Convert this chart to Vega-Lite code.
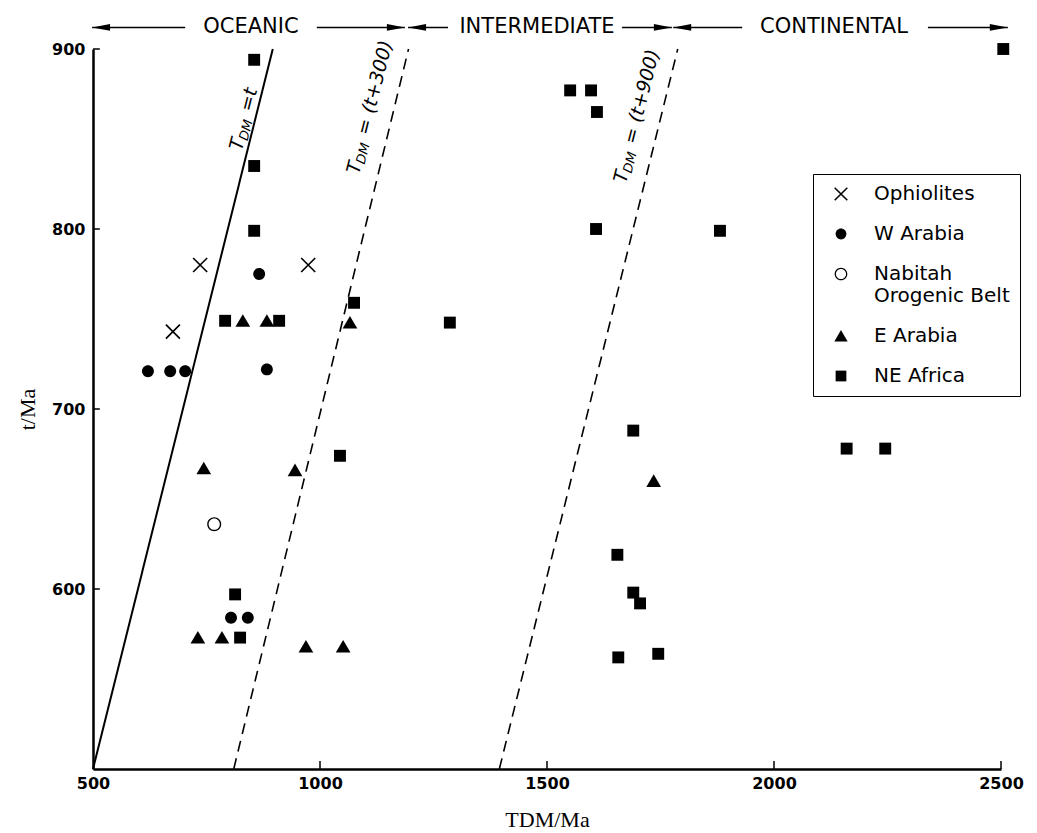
{
  "$schema": "https://vega.github.io/schema/vega-lite/v6.json",
  "width": 908,
  "height": 720,
  "autosize": {"type": "none"},
  "padding": {"left": 93, "top": 49, "right": 36, "bottom": 64},
  "background": "white",
  "config": {
    "view": {"stroke": null},
    "legend": {
      "orient": "none",
      "legendX": 720,
      "legendY": 125,
      "strokeColor": "black",
      "padding": 10,
      "rowPadding": 20,
      "symbolOffset": 8,
      "labelOffset": 23,
      "labelFont": "DejaVu Sans",
      "labelFontSize": 20,
      "labelColor": "black",
      "labelLimit": 400,
      "symbolSize": 160,
      "symbolFillColor": "black",
      "symbolStrokeWidth": 0
    }
  },
  "datasets": {
    "pts": [
      {"group": "Ophiolites", "TDM": 736, "t": 780},
      {"group": "Ophiolites", "TDM": 974, "t": 780},
      {"group": "Ophiolites", "TDM": 676, "t": 743},
      {"group": "W Arabia", "TDM": 866, "t": 775},
      {"group": "W Arabia", "TDM": 621, "t": 721},
      {"group": "W Arabia", "TDM": 670, "t": 721},
      {"group": "W Arabia", "TDM": 703, "t": 721},
      {"group": "W Arabia", "TDM": 883, "t": 722},
      {"group": "W Arabia", "TDM": 804, "t": 584},
      {"group": "W Arabia", "TDM": 841, "t": 584},
      {"group": "Nabitah Orogenic Belt", "TDM": 767, "t": 636},
      {"group": "E Arabia", "TDM": 830, "t": 749},
      {"group": "E Arabia", "TDM": 883, "t": 749},
      {"group": "E Arabia", "TDM": 1066, "t": 748},
      {"group": "E Arabia", "TDM": 744, "t": 667},
      {"group": "E Arabia", "TDM": 945, "t": 666},
      {"group": "E Arabia", "TDM": 731, "t": 573},
      {"group": "E Arabia", "TDM": 784, "t": 573},
      {"group": "E Arabia", "TDM": 969, "t": 568},
      {"group": "E Arabia", "TDM": 1051, "t": 568},
      {"group": "E Arabia", "TDM": 1735, "t": 660},
      {"group": "NE Africa", "TDM": 855, "t": 894},
      {"group": "NE Africa", "TDM": 855, "t": 835},
      {"group": "NE Africa", "TDM": 855, "t": 799},
      {"group": "NE Africa", "TDM": 791, "t": 749},
      {"group": "NE Africa", "TDM": 910, "t": 749},
      {"group": "NE Africa", "TDM": 1075, "t": 759},
      {"group": "NE Africa", "TDM": 1286, "t": 748},
      {"group": "NE Africa", "TDM": 1044, "t": 674},
      {"group": "NE Africa", "TDM": 813, "t": 597},
      {"group": "NE Africa", "TDM": 824, "t": 573},
      {"group": "NE Africa", "TDM": 1551, "t": 877},
      {"group": "NE Africa", "TDM": 1597, "t": 877},
      {"group": "NE Africa", "TDM": 1610, "t": 865},
      {"group": "NE Africa", "TDM": 1608, "t": 800},
      {"group": "NE Africa", "TDM": 1881, "t": 799},
      {"group": "NE Africa", "TDM": 1690, "t": 688},
      {"group": "NE Africa", "TDM": 1655, "t": 619},
      {"group": "NE Africa", "TDM": 1690, "t": 598},
      {"group": "NE Africa", "TDM": 1705, "t": 592},
      {"group": "NE Africa", "TDM": 1657, "t": 562},
      {"group": "NE Africa", "TDM": 1745, "t": 564},
      {"group": "NE Africa", "TDM": 2160, "t": 678},
      {"group": "NE Africa", "TDM": 2245, "t": 678},
      {"group": "NE Africa", "TDM": 2505, "t": 900}
    ],
    "solid": [
      {"TDM": 500, "t": 500},
      {"TDM": 896, "t": 900}
    ],
    "dashed": [
      {"line": "t+300", "TDM": 810, "t": 500},
      {"line": "t+300", "TDM": 1195, "t": 900},
      {"line": "t+900", "TDM": 1395, "t": 500},
      {"line": "t+900", "TDM": 1788, "t": 900}
    ],
    "xticks": [
      {"TDM": 1000, "t": 500, "t2": 504.5},
      {"TDM": 1500, "t": 500, "t2": 504.5},
      {"TDM": 2000, "t": 500, "t2": 504.5},
      {"TDM": 2500, "t": 500, "t2": 504.5}
    ],
    "yticks": [
      {"TDM": 500, "TDM2": 515, "t": 600},
      {"TDM": 500, "TDM2": 515, "t": 700},
      {"TDM": 500, "TDM2": 515, "t": 800},
      {"TDM": 500, "TDM2": 515, "t": 900}
    ],
    "regions": [
      {"label": "OCEANIC", "TDM": 848, "t": 912},
      {"label": "INTERMEDIATE", "TDM": 1478, "t": 912},
      {"label": "CONTINENTAL", "TDM": 2132, "t": 912}
    ],
    "segs": [
      {"TDM": 498, "TDM2": 703, "t": 912},
      {"TDM": 993, "TDM2": 1187, "t": 912},
      {"TDM": 1194, "TDM2": 1282, "t": 912},
      {"TDM": 1665, "TDM2": 1775, "t": 912},
      {"TDM": 1778, "TDM2": 1930, "t": 912},
      {"TDM": 2339, "TDM2": 2515, "t": 912}
    ],
    "headsL": [
      {"TDM": 498, "t": 912},
      {"TDM": 1194, "t": 912},
      {"TDM": 1778, "t": 912}
    ],
    "headsR": [
      {"TDM": 1187, "t": 912},
      {"TDM": 1775, "t": 912},
      {"TDM": 2515, "t": 912}
    ],
    "lineLabels": [
      {"TDM": 815, "t": 844, "rest": "=t"},
      {"TDM": 1073, "t": 831, "rest": "=  (t+300)"},
      {"TDM": 1661, "t": 826, "rest": "=  (t+900)"}
    ]
  },
  "encoding": {
    "x": {
      "field": "TDM", "type": "quantitative",
      "scale": {"domain": [500, 2500], "nice": false, "zero": false},
      "axis": {
        "values": [500, 1000, 1500, 2000, 2500],
        "format": "d",
        "title": "TDM/Ma",
        "grid": false,
        "ticks": false,
        "domainColor": "black", "domainWidth": 2.5,
        "labelFont": "DejaVu Sans", "labelFontWeight": "bold", "labelFontSize": 16, "labelColor": "black",
        "labelPadding": 6, "labelFlush": false,
        "titleFont": "Liberation Serif", "titleFontSize": 22, "titleFontWeight": "normal", "titleColor": "black",
        "titlePadding": 18
      }
    },
    "y": {
      "field": "t", "type": "quantitative",
      "scale": {"domain": [500, 900], "nice": false, "zero": false},
      "axis": {
        "values": [600, 700, 800, 900],
        "format": "d",
        "title": "t/Ma",
        "grid": false,
        "ticks": false,
        "domainColor": "black", "domainWidth": 2.5,
        "labelFont": "DejaVu Sans", "labelFontWeight": "bold", "labelFontSize": 16, "labelColor": "black",
        "labelPadding": 8,
        "titleFont": "Liberation Serif", "titleFontSize": 22, "titleFontWeight": "normal", "titleColor": "black",
        "titlePadding": 12
      }
    }
  },
  "layer": [
    {
      "data": {"name": "xticks"},
      "mark": {"type": "rule", "color": "black", "strokeWidth": 1.5},
      "encoding": {
        "y2": {"field": "t2"}
      }
    },
    {
      "data": {"name": "yticks"},
      "mark": {"type": "rule", "color": "black", "strokeWidth": 1.5},
      "encoding": {
        "x2": {"field": "TDM2"}
      }
    },
    {
      "data": {"name": "solid"},
      "mark": {"type": "line", "color": "black", "strokeWidth": 2}
    },
    {
      "data": {"name": "dashed"},
      "mark": {"type": "line", "color": "black", "strokeWidth": 1.6, "strokeDash": [11, 7]},
      "encoding": {
        "detail": {"field": "line", "type": "nominal"}
      }
    },
    {
      "data": {"name": "segs"},
      "mark": {"type": "rule", "color": "black", "strokeWidth": 1.5},
      "encoding": {
        "x2": {"field": "TDM2"}
      }
    },
    {
      "data": {"name": "headsL"},
      "mark": {"type": "point", "shape": "M0,0L4,-0.75L4,0.75Z", "size": 81, "filled": true, "color": "black", "opacity": 1}
    },
    {
      "data": {"name": "headsR"},
      "mark": {"type": "point", "shape": "M0,0L-4,-0.75L-4,0.75Z", "size": 81, "filled": true, "color": "black", "opacity": 1}
    },
    {
      "data": {"name": "regions"},
      "mark": {"type": "text", "font": "DejaVu Sans", "fontSize": 21, "color": "black", "align": "center", "baseline": "middle"},
      "encoding": {
        "text": {"field": "label"}
      }
    },
    {
      "data": {"name": "lineLabels"},
      "mark": {"type": "text", "text": "T", "font": "DejaVu Sans", "fontStyle": "italic", "fontSize": 19, "color": "black", "align": "left", "baseline": "middle", "angle": -75.8}
    },
    {
      "data": {"name": "lineLabels"},
      "mark": {"type": "text", "text": "DM", "font": "DejaVu Sans", "fontStyle": "italic", "fontSize": 13, "color": "black", "align": "left", "baseline": "middle", "angle": -75.8, "dx": 11, "dy": 5}
    },
    {
      "data": {"name": "lineLabels"},
      "mark": {"type": "text", "font": "DejaVu Sans", "fontStyle": "italic", "fontSize": 19, "color": "black", "align": "left", "baseline": "middle", "angle": -75.8, "dx": 40},
      "encoding": {
        "text": {"field": "rest"}
      }
    },
    {
      "data": {"name": "pts"},
      "mark": {"type": "point", "filled": true, "color": "black", "strokeWidth": 0, "size": 196, "opacity": 1},
      "encoding": {
        "shape": {
          "field": "group", "type": "nominal",
          "scale": {
            "domain": ["Ophiolites", "W Arabia", "Nabitah Orogenic Belt", "E Arabia", "NE Africa"],
            "range": [
              "M-0.915,-1.085L1.085,0.915L0.915,1.085L-1.085,-0.915ZM-0.915,1.085L-1.085,0.915L0.915,-1.085L1.085,-0.915Z",
              "M-0.85,0A0.85,0.85,0,1,0,0.85,0A0.85,0.85,0,1,0,-0.85,0Z",
              "M-1,0A1,1,0,1,0,1,0A1,1,0,1,0,-1,0ZM-0.8,0A0.8,0.8,0,1,1,0.8,0A0.8,0.8,0,1,1,-0.8,0Z",
              "M0,-0.95L1.05,0.85L-1.05,0.85Z",
              "M-0.85,-0.85L0.85,-0.85L0.85,0.85L-0.85,0.85Z"
            ]
          },
          "legend": {
            "title": null,
            "labelExpr": "datum.label == 'Nabitah Orogenic Belt' ? ['Nabitah', 'Orogenic Belt'] : datum.label",
            "encode": {
              "legend": {"update": {"strokeWidth": {"value": 2}}},
              "symbols": {"update": {"fill": {"value": "black"}, "stroke": {"value": "transparent"}}}
            }
          }
        }
      }
    }
  ]
}
